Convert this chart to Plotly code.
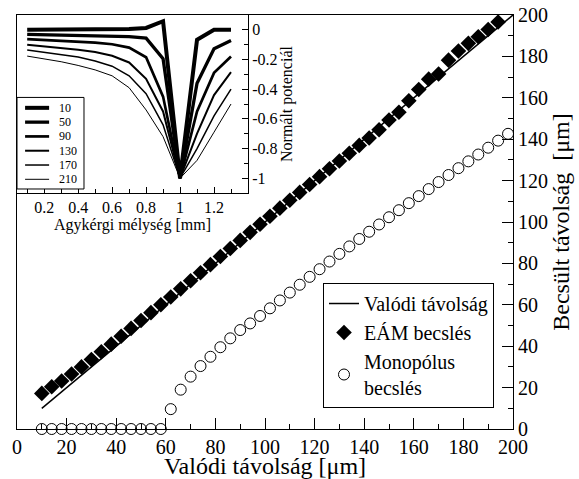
import plotly.graph_objects as go

# ---------------- main chart data ----------------
true_x = [10, 200]
true_y = [10, 200]

eam_x = [10, 14, 18, 22, 26, 30, 34, 38, 42, 46, 50, 54, 58, 62, 66, 70, 74, 78, 82, 86,
         90, 94, 98, 102, 106, 110, 114, 118, 122, 126, 130, 134, 138, 142, 146, 150,
         154, 158, 162, 166, 170, 174, 178, 182, 186, 190, 194]
eam_y = [17.2, 20.4, 23.2, 26.6, 30.0, 33.6, 37.3, 41.0, 44.8, 48.6, 52.4, 56.2, 60.0,
         63.8, 67.7, 71.6, 75.5, 79.4, 83.3, 87.2, 91.1, 95.0, 98.9, 102.8, 106.7, 110.5,
         114.3, 118.1, 121.9, 125.7, 129.5, 133.2, 137.0, 140.6, 144.6, 149.3, 153.0,
         158.6, 164.0, 169.0, 171.5, 178.2, 182.6, 186.3, 189.5, 193.0, 196.6]

mono_x = [10, 14, 18, 22, 26, 30, 34, 38, 42, 46, 50, 54, 58, 62, 66, 70, 74, 78, 82, 86,
          90, 94, 98, 102, 106, 110, 114, 118, 122, 126, 130, 134, 138, 142, 146, 150,
          154, 158, 162, 166, 170, 174, 178, 182, 186, 190, 194, 198]
mono_y = [0, 0, 0, 0, 0, 0, 0, 0, 0, 0, 0, 0, 0,
          9.6, 19.0, 25.3, 30.4, 34.9, 39.5, 43.8, 47.8, 51.0, 54.6, 58.3, 62.1, 65.9,
          69.7, 73.5, 77.2, 80.9, 84.6, 88.2, 91.8, 95.3, 98.8, 102.3, 105.7, 109.1,
          112.5, 115.9, 119.3, 122.7, 126.0, 129.3, 132.6, 135.9, 139.3, 142.6]

main_xticks = [0, 20, 40, 60, 80, 100, 120, 140, 160, 180, 200]
main_yticks = [0, 20, 40, 60, 80, 100, 120, 140, 160, 180, 200]

# ---------------- inset data ----------------
depth = [0.1, 0.2, 0.3, 0.4, 0.5, 0.6, 0.7, 0.8, 0.9, 1.0, 1.1, 1.2, 1.3]
inset_names = ["10", "50", "90", "130", "170", "210"]
pot_10 = [0, 0, 0, 0, 0, 0, 0.005, 0.013, 0.058, -1, -0.067, 0, 0]
pot_50 = [-0.03, -0.032, -0.034, -0.036, -0.038, -0.041, -0.046, -0.056, -0.195, -1, -0.36, -0.127, -0.072]
pot_90 = [-0.062, -0.067, -0.072, -0.078, -0.086, -0.097, -0.12, -0.185, -0.45, -1, -0.55, -0.29, -0.18]
pot_130 = [-0.10, -0.11, -0.12, -0.134, -0.15, -0.175, -0.22, -0.33, -0.55, -1, -0.70, -0.44, -0.285]
pot_170 = [-0.136, -0.15, -0.165, -0.183, -0.21, -0.245, -0.31, -0.43, -0.64, -1, -0.80, -0.58, -0.40]
pot_210 = [-0.177, -0.195, -0.215, -0.24, -0.27, -0.31, -0.39, -0.54, -0.72, -1, -0.88, -0.69, -0.50]
inset_series = [pot_10, pot_50, pot_90, pot_130, pot_170, pot_210]
inset_widths = [4, 3.3, 2.7, 2, 1.5, 1]

inset_xticks = [0.2, 0.4, 0.6, 0.8, 1.0, 1.2]
inset_xticktext = ["0.2", "0.4", "0.6", "0.8", "1", "1.2"]
inset_yticks = [0, -0.2, -0.4, -0.6, -0.8, -1]
inset_yticktext = ["0", "-0.2", "-0.4", "-0.6", "-0.8", "-1"]

FONT = "Liberation Serif, Times New Roman, serif"

fig = go.Figure()

fig.add_trace(go.Scatter(x=true_x, y=true_y, mode="lines", name="Valódi távolság",
                         line=dict(color="black", width=1.5), xaxis="x", yaxis="y"))
fig.add_trace(go.Scatter(x=eam_x, y=eam_y, mode="markers", name="EÁM becslés",
                         marker=dict(symbol="diamond", size=12, color="black"),
                         xaxis="x", yaxis="y", cliponaxis=False))
fig.add_trace(go.Scatter(x=mono_x, y=mono_y, mode="markers", name="Monopólus<br>becslés",
                         marker=dict(symbol="circle-open", size=11, color="black",
                                     line=dict(width=1, color="black")),
                         xaxis="x", yaxis="y", cliponaxis=False))

for name, vals, w in zip(inset_names, inset_series, inset_widths):
    fig.add_trace(go.Scatter(x=depth, y=vals, mode="lines", name=name,
                             line=dict(color="black", width=w),
                             xaxis="x2", yaxis="y2", showlegend=False))

# inset legend (box, sample lines and labels)
shapes = [dict(type="rect", xref="x2 domain", yref="y2 domain", x0=0, x1=0.29,
               y0=0.0226, y1=0.537, line=dict(color="black", width=1),
               fillcolor="white", layer="above")]
annotations = []
for i, (name, w) in enumerate(zip(inset_names, inset_widths)):
    yy = 0.4785 - i * 0.0803
    shapes.append(dict(type="line", xref="x2 domain", yref="y2 domain",
                       x0=0.035, x1=0.139, y0=yy, y1=yy,
                       line=dict(color="black", width=w), layer="above"))
    annotations.append(dict(xref="x2 domain", yref="y2 domain", x=0.175, y=yy,
                            text=name, showarrow=False, xanchor="left", yanchor="middle",
                            font=dict(family=FONT, size=12, color="black")))

axis_common = dict(showline=True, linecolor="black", linewidth=1, mirror=True,
                   showgrid=False, zeroline=False, ticks="inside", tickcolor="black",
                   tickwidth=1, automargin=False)

fig.update_layout(
    template="none",
    width=579, height=479,
    margin=dict(l=17, r=66, t=15, b=50, autoexpand=False),
    paper_bgcolor="white", plot_bgcolor="white",
    font=dict(family=FONT, color="black"),
    showlegend=True,
    legend=dict(x=0.9617, y=0.0507, xanchor="right", yanchor="bottom",
                bordercolor="black", borderwidth=1, bgcolor="white",
                font=dict(family=FONT, size=20, color="black"),
                tracegroupgap=0, itemwidth=30),
    xaxis=dict(domain=[0, 1], range=[0, 200], tickvals=main_xticks, ticklen=11,
               minor=dict(dtick=10, tick0=0, ticks="inside", ticklen=5, tickcolor="black"),
               tickfont=dict(family=FONT, size=20, color="black"),
               title=dict(text="Valódi távolság [μm]", font=dict(family=FONT, size=24),
                          standoff=0),
               anchor="y", **axis_common),
    yaxis=dict(domain=[0, 1], range=[0, 200], side="right", tickvals=main_yticks, ticklen=11,
               minor=dict(dtick=10, tick0=0, ticks="inside", ticklen=5, tickcolor="black"),
               tickfont=dict(family=FONT, size=20, color="black"),
               title=dict(text="Becsült távolság\u00a0\u00a0[μm]", font=dict(family=FONT, size=24),
                          standoff=2),
               anchor="x", **axis_common),
    xaxis2=dict(domain=[0, 0.4657], range=[0.04, 1.4], anchor="y2",
                tickvals=inset_xticks, ticktext=inset_xticktext, ticklen=6,
                minor=dict(dtick=0.1, tick0=0, ticks="inside", ticklen=4, tickcolor="black"),
                tickfont=dict(family=FONT, size=16, color="black"),
                title=dict(text="Agykérgi mélység [mm]", font=dict(family=FONT, size=16),
                           standoff=0),
                **axis_common),
    yaxis2=dict(domain=[0.570, 1], range=[-1.1, 0.1], anchor="x2", side="right",
                tickvals=inset_yticks, ticktext=inset_yticktext, ticklen=6,
                minor=dict(dtick=0.1, tick0=0, ticks="inside", ticklen=4, tickcolor="black"),
                tickfont=dict(family=FONT, size=16, color="black"),
                title=dict(text="Normált potenciál", font=dict(family=FONT, size=16),
                           standoff=2),
                **axis_common),
    shapes=shapes,
    annotations=annotations,
)

fig.write_html("out.html", config={"displayModeBar": False},
               post_script="document.body.style.margin='0';document.body.style.padding='0';")
